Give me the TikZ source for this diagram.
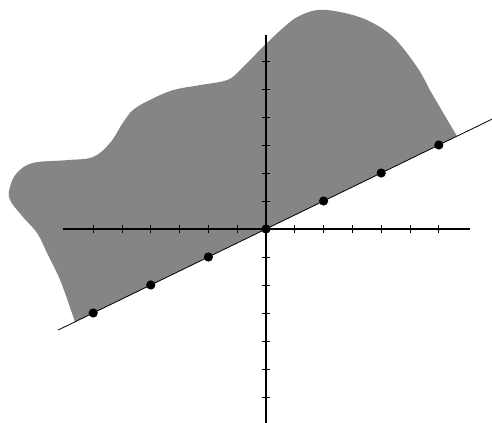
\documentclass[tikz,border=0pt]{standalone}
\usetikzlibrary{calc}
\definecolor{regiongray}{HTML}{858585}
\begin{document}
\begin{tikzpicture}[x=1cm,y=0.972cm,axis/.style={line width=1.2pt},tick/.style={line width=0.9pt},pt/.style={circle,fill=black,inner sep=0pt,minimum size=0.32cm}]
\useasboundingbox (-9.236,-6.93) rectangle (7.847,8.18);
% half plane above the line, cut off by a wavy border
\fill[regiongray] (-6.63,-3.315)--(6.63,3.315)--plot[smooth,tension=0.6] coordinates {(5.69,4.96) (5.24,5.79) (4.41,6.86) (3.51,7.46) (2.57,7.75) (1.77,7.82) (1.08,7.57) (0.59,7.18) (0.14,6.75) (-0.31,6.29) (-0.90,5.68) (-1.35,5.32) (-2.29,5.14) (-3.23,4.96) (-4.03,4.61) (-4.62,4.25) (-4.97,3.79) (-5.42,3.07) (-6.01,2.57) (-6.91,2.46) (-8.09,2.36) (-8.65,2.0) (-8.89,1.5) (-8.89,1.04) (-8.44,0.43) (-7.95,-0.14) (-7.60,-0.86) (-7.15,-1.82) (-6.81,-2.79)}--cycle;
\coordinate (xl) at (-7.05,0);\coordinate (xr) at (7.08,0);
\coordinate (yb) at (0,-6.93);\coordinate (yt) at (0,6.93);
\coordinate (ll) at (-7.22,-3.61);\coordinate (lr) at (7.85,3.925);
\draw[axis] (xl)--(xr);\draw[axis] (yb)--(yt);
\foreach \k in {-6,...,-1,1,2,...,6}{\draw[tick] (\k,-0.15)--(\k,0.15);\draw[tick] (-0.15,\k)--(0.15,\k);}
\draw[line width=0.8pt] (ll)--(lr);
\foreach \k in {-3,...,3}\node[pt] (p\k) at (2*\k,\k) {};
\end{tikzpicture}
\end{document}
